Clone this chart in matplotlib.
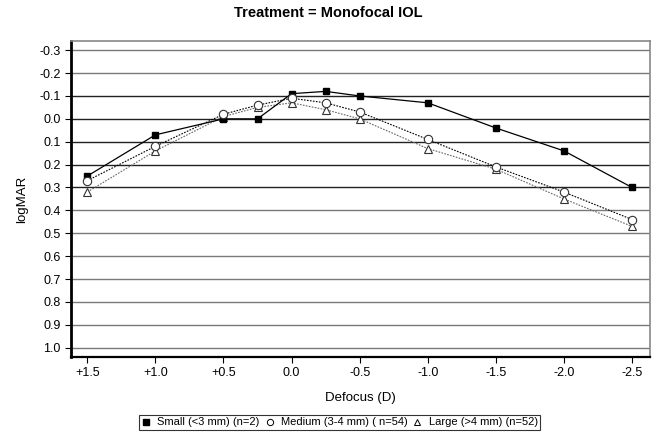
import matplotlib
matplotlib.use('Agg')
import matplotlib.pyplot as plt
from matplotlib.lines import Line2D

plt.rcParams['font.family'] = ['Liberation Sans', 'DejaVu Sans']

# defocus levels (D) and mean logMAR by pupil size group
defocus = [1.5, 1.0, 0.5, 0.25, 0.0, -0.25, -0.5, -1.0, -1.5, -2.0, -2.5]
small = [0.25, 0.07, 0.00, 0.00, -0.11, -0.12, -0.10, -0.07, 0.04, 0.14, 0.30]
medium = [0.27, 0.12, -0.02, -0.06, -0.09, -0.07, -0.03, 0.09, 0.21, 0.32, 0.44]
large = [0.32, 0.14, -0.01, -0.05, -0.07, -0.04, 0.00, 0.13, 0.22, 0.35, 0.47]

xticks = [1.5, 1.0, 0.5, 0.0, -0.5, -1.0, -1.5, -2.0, -2.5]
xticklabels = ['+1.5', '+1.0', '+0.5', '0.0', '-0.5', '-1.0', '-1.5', '-2.0', '-2.5']
yticks = [-0.3, -0.2, -0.1, 0.0, 0.1, 0.2, 0.3, 0.4, 0.5, 0.6, 0.7, 0.8, 0.9, 1.0]

labels = ['Small (<3 mm) (n=2)', 'Medium (3-4 mm) ( n=54)', 'Large (>4 mm) (n=52)']

fig = plt.figure(figsize=(6.57, 4.32), dpi=100)
ax = fig.add_axes([0.108, 0.174, 0.881, 0.731])

# horizontal grid, darker through the middle band
for y in yticks:
    col = '#222222' if -0.15 < y < 0.35 else '#7a7a7a'
    ax.axhline(y, color=col, lw=1.0, zorder=1)

ax.plot(defocus, small, color='black', lw=0.9, ls='-', marker='s', ms=5,
        mfc='black', mec='black', zorder=3)
ax.plot(defocus, medium, color='black', lw=0.8, ls=(0, (1.5, 1.2)), marker='o', ms=6,
        mfc='white', mec='#333333', mew=0.8, zorder=3)
ax.plot(defocus, large, color='#666666', lw=0.8, ls=(0, (1.5, 1.2)), marker='^', ms=6,
        mfc='white', mec='#333333', mew=0.8, zorder=2)

ax.set_xlim(1.62, -2.63)
ax.set_ylim(1.04, -0.34)
ax.set_xticks(xticks)
ax.set_xticklabels(xticklabels)
ax.set_yticks(yticks)
ax.set_yticklabels(['%.1f' % v for v in yticks])
ax.tick_params(axis='both', labelsize=9, length=4, width=0.8, direction='out', colors='black')

ax.spines['left'].set_linewidth(2.0)
ax.spines['bottom'].set_linewidth(1.6)
ax.spines['top'].set_color('#888888')
ax.spines['right'].set_color('#888888')
ax.spines['top'].set_linewidth(1.2)
ax.spines['right'].set_linewidth(1.2)

ax.set_xlabel('Defocus (D)', fontsize=9.5, labelpad=9)
ax.set_ylabel('logMAR', fontsize=9.5, labelpad=8)
fig.suptitle('Treatment = Monofocal IOL', fontsize=10.5, fontweight='bold', y=0.985)

handles = [
    Line2D([], [], ls='none', marker='s', ms=4, mfc='black', mec='black'),
    Line2D([], [], ls='none', marker='o', ms=4.5, mfc='white', mec='black', mew=0.7),
    Line2D([], [], ls='none', marker='^', ms=4.5, mfc='white', mec='black', mew=0.7),
]
leg = fig.legend(handles, labels, loc='center', bbox_to_anchor=(0.517, 0.022), ncol=3,
                 fontsize=8, frameon=True, fancybox=False, edgecolor='black',
                 handlelength=0.8, handletextpad=0.6, columnspacing=0.5,
                 borderpad=0.2, borderaxespad=0)
leg.get_frame().set_linewidth(0.8)

fig.savefig('out.png', dpi=100)
